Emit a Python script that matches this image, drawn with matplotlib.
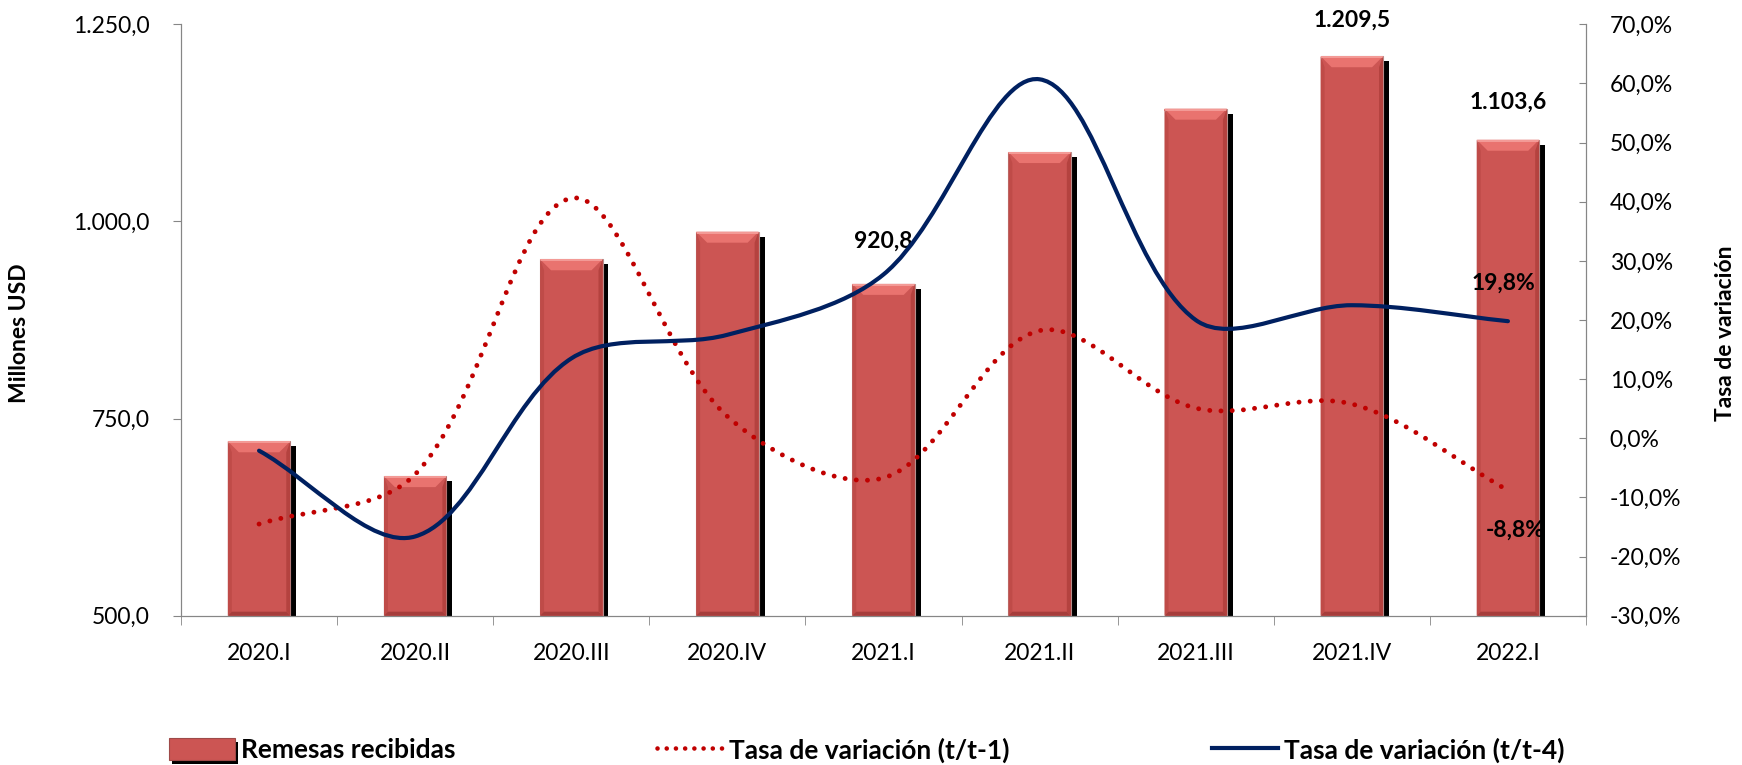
import matplotlib
matplotlib.use('Agg')
import math
import matplotlib.pyplot as plt
import matplotlib.patheffects as pe
from matplotlib.path import Path
from matplotlib.patches import PathPatch, Polygon, Patch
from matplotlib.lines import Line2D
from matplotlib.ticker import FuncFormatter, FixedLocator

# data (millones USD, tasas en %)
periods = ['2020.I', '2020.II', '2020.III', '2020.IV', '2021.I',
           '2021.II', '2021.III', '2021.IV', '2022.I']
remesas = [721.2, 677.0, 952.0, 987.0, 920.8, 1088.0, 1143.0, 1209.5, 1103.6]
var_t1 = [-14.5, -6.1, 40.6, 3.7, -6.7, 18.2, 5.1, 5.8, -8.8]
var_t4 = [-2.1, -16.6, 13.5, 17.5, 27.7, 60.7, 20.0, 22.5, 19.8]
bar_label_idx = [4, 7, 8]
bar_label_dy = [31, 26, 27]   # points above bar top

FONT = 'Lato'
FS = 16.5
FS_LEG = 19
BAR_COLOR = '#CC5553'
RED = '#C00000'
BLUE = '#002060'
AXIS_GRAY = '#868686'

plt.rcParams['font.family'] = [FONT, 'DejaVu Sans']


def es_num(v):
    s = f"{v:,.1f}"
    return s.replace(',', 'X').replace('.', ',').replace('X', '.')


def smooth_path(ax_, xs, ys):
    # excel-like smoothed line, control points worked out in pixel space
    tr = ax_.transData
    pts = [tuple(tr.transform((x, y))) for x, y in zip(xs, ys)]
    n = len(pts)
    verts = [pts[0]]
    codes = [Path.MOVETO]
    for i in range(n - 1):
        p0 = pts[max(i - 1, 0)]
        p1 = pts[i]
        p2 = pts[i + 1]
        p3 = pts[min(i + 2, n - 1)]
        d01 = math.dist(p0, p1)
        d12 = math.dist(p1, p2)
        d23 = math.dist(p2, p3)
        f1 = d12 / (d01 + d12) / 3 if d01 + d12 else 0
        f2 = d12 / (d12 + d23) / 3 if d12 + d23 else 0
        c1 = (p1[0] + (p2[0] - p0[0]) * f1, p1[1] + (p2[1] - p0[1]) * f1)
        c2 = (p2[0] - (p3[0] - p1[0]) * f2, p2[1] - (p3[1] - p1[1]) * f2)
        verts += [c1, c2, p2]
        codes += [Path.CURVE4] * 3
    inv = tr.inverted()
    return Path(inv.transform(verts), codes)


W, H = 1742, 765
fig = plt.figure(figsize=(W / 100, H / 100), dpi=100)
ax = fig.add_axes([181 / W, 1 - 615.7 / H, 1405 / W, 591.4 / H])
ax2 = ax.twinx()

xpos = list(range(len(periods)))
bar_w = 0.40

ax.set_xlim(-0.5, len(periods) - 0.5)
ax.set_ylim(500, 1250)
ax2.set_ylim(-30, 70)

bars = ax.bar(xpos, [v - 500 for v in remesas], bottom=500, width=bar_w,
              color=BAR_COLOR, edgecolor='#B88E8C', linewidth=0.8, zorder=2)
for b in bars:
    b.set_path_effects([pe.SimplePatchShadow(offset=(4.3, -3.6), shadow_rgbFace='black', alpha=1.0),
                        pe.Normal()])

# bevel look on the bars
to_disp = ax.transData
to_data = ax.transData.inverted()
bev, side = 11, 4
for x, v in zip(xpos, remesas):
    x0, y0 = to_disp.transform((x - bar_w / 2, 500))
    x1, y1 = to_disp.transform((x + bar_w / 2, v))
    pieces = [
        ([(x0, y1), (x1, y1), (x1 - bev, y1 - bev), (x0 + bev, y1 - bev)], '#E9736F'),
        ([(x0, y1 - 2), (x1, y1 - 2), (x1, y1), (x0, y1)], '#F39A96'),
        ([(x0, y0), (x0, y1), (x0 + side, y1 - bev), (x0 + side, y0 + side)], '#BF4B48'),
        ([(x1, y0), (x1, y1), (x1 - side, y1 - bev), (x1 - side, y0 + side)], '#B4423F'),
        ([(x0, y0), (x1, y0), (x1 - side, y0 + side), (x0 + side, y0 + side)], '#A63D3B'),
    ]
    for pts, col in pieces:
        ax.add_patch(Polygon(to_data.transform(pts), closed=True, fc=col, ec='none', zorder=3))

for i, dy in zip(bar_label_idx, bar_label_dy):
    ax.annotate(es_num(remesas[i]), (xpos[i], remesas[i]), xytext=(0, dy),
                textcoords='offset points', ha='center', va='center',
                fontsize=FS, fontweight='bold', zorder=6)

# smoothed lines
ax2.add_patch(PathPatch(smooth_path(ax2, xpos, var_t1), fill=False, edgecolor=RED, lw=3.5,
                        linestyle=(0, (0.01, 2.3)), capstyle='round', zorder=4))
ax2.add_patch(PathPatch(smooth_path(ax2, xpos, var_t4), fill=False, edgecolor=BLUE, lw=3.0,
                        capstyle='round', zorder=5))

ax2.annotate(f"{var_t4[-1]:.1f}%".replace('.', ','), (xpos[-1], var_t4[-1]), xytext=(-3, 27),
             textcoords='offset points', ha='center', va='center',
             fontsize=FS, fontweight='bold')
ax2.annotate(f"{var_t1[-1]:.1f}%".replace('.', ','), (xpos[-1], var_t1[-1]), xytext=(5, -29),
             textcoords='offset points', ha='center', va='center',
             fontsize=FS, fontweight='bold')

# axes styling
for a in (ax, ax2):
    for s in a.spines.values():
        s.set_color(AXIS_GRAY)
    a.spines['top'].set_visible(False)

ax.yaxis.set_major_locator(FixedLocator([500, 750, 1000, 1250]))
ax.yaxis.set_major_formatter(FuncFormatter(lambda v, p: es_num(v)))
ax.tick_params(axis='y', direction='out', length=5.8, color=AXIS_GRAY, pad=17, labelsize=FS)

ax2.yaxis.set_major_locator(FixedLocator(list(range(-30, 71, 10))))
ax2.yaxis.set_major_formatter(FuncFormatter(lambda v, p: f"{v:.1f}%".replace('.', ',')))
ax2.tick_params(axis='y', direction='in', length=5, color=AXIS_GRAY, pad=17, labelsize=FS)

ax.set_xticks(xpos)
ax.set_xticklabels(periods)
ax.set_xticks([i - 0.5 for i in range(len(periods) + 1)], minor=True)
ax.tick_params(axis='x', which='major', length=0, pad=20, labelsize=FS)
ax.tick_params(axis='x', which='minor', direction='out', length=6.5, color=AXIS_GRAY)

fig.text(20 / W, 1 - 333 / H, 'Millones USD', rotation=90, ha='center', va='center',
         fontsize=FS, fontweight='bold')
fig.text(1725 / W, 1 - 333 / H, 'Tasa de variación', rotation=90, ha='center', va='center',
         fontsize=FS, fontweight='bold')

handles = [
    Patch(facecolor=BAR_COLOR, edgecolor='#9E4A48', linewidth=0.8,
          path_effects=[pe.SimplePatchShadow(offset=(2.5, -2.5), shadow_rgbFace='black', alpha=1.0),
                        pe.Normal()]),
    Line2D([], [], color=RED, lw=3.3, linestyle=(0, (0.01, 2.0)), dash_capstyle='round'),
    Line2D([], [], color=BLUE, lw=3.0),
]
labels = ['Remesas recibidas', 'Tasa de variación (t/t-1)', 'Tasa de variación (t/t-4)']
fig.legend(handles, labels, loc='center left', bbox_to_anchor=(169 / W, 1 - 750 / H), ncol=3,
           frameon=False, borderpad=0, borderaxespad=0, handlelength=2.5, handleheight=0.9,
           handletextpad=0.23, columnspacing=7.65,
           prop={'family': FONT, 'weight': 'bold', 'size': FS_LEG})

fig.savefig('out.png', dpi=100)
